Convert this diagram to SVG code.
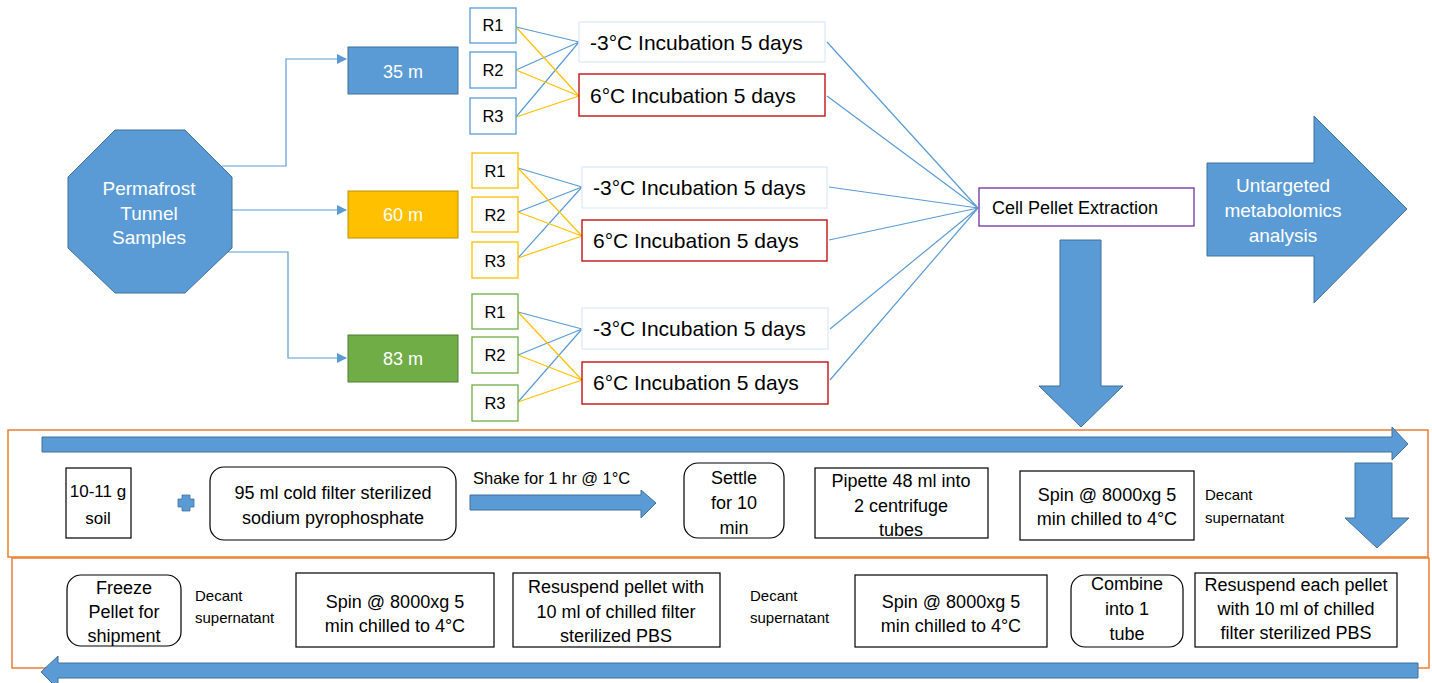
<svg xmlns="http://www.w3.org/2000/svg" width="1432" height="683" viewBox="0 0 1432 683">
<style>
text{font-family:"Liberation Sans",Arial,sans-serif;fill:#000}
.w{fill:#fff}
.c{text-anchor:middle}
.f18{font-size:18px}
.f17{font-size:17px}
.f16{font-size:16.5px}
.f15{font-size:15px}
.fr{font-size:16.5px}
.f21{font-size:21px}
.f19{font-size:19px}
.box{fill:#fff;stroke:#000;stroke-width:1.2}
.blu{fill:#5B9BD5;stroke:#41719C;stroke-width:1}
.lb{stroke:#5B9BD5;stroke-width:1.2;fill:none}
.ly{stroke:#FFC000;stroke-width:1.2;fill:none}
.org{fill:none;stroke:#ED7D31;stroke-width:1.5}
</style>
<defs>
<marker id="ah" markerWidth="10" markerHeight="10" refX="9" refY="5" orient="auto" markerUnits="userSpaceOnUse"><path d="M0,0 L10,5 L0,10 z" fill="#5B9BD5"/></marker>
</defs>

<!-- frames -->
<rect class="org" x="8" y="430" width="1420" height="127"/>
<rect class="org" x="12" y="558" width="1417" height="110"/>

<g id="connectors">
<path class="lb" d="M222,166 H286 V59 H346" marker-end="url(#ah)"/>
<path class="lb" d="M232,210 H346" marker-end="url(#ah)"/>
<path class="lb" d="M227,252 H288 V358 H346" marker-end="url(#ah)"/>
<!-- group 1 -->
<path class="lb" d="M516,27 L579,42 M516,70 L579,42 M516,117 L579,42"/>
<path class="ly" d="M516,27 L579,96 M516,70 L579,96 M516,117 L579,96"/>
<!-- group 2 -->
<path class="lb" d="M518,168 L582,187 M518,212 L582,187 M518,258 L582,187"/>
<path class="ly" d="M518,168 L582,236 M518,212 L582,236 M518,258 L582,236"/>
<!-- group 3 -->
<path class="lb" d="M518,312 L582,329 M518,355 L582,329 M518,402 L582,329"/>
<path class="ly" d="M518,312 L582,380 M518,355 L582,380 M518,402 L582,380"/>
<!-- to cell pellet -->
<path class="lb" d="M827,42 L978,208 M827,96 L978,208 M829,187 L978,208 M829,240 L978,208 M830,329 L978,208 M830,380 L978,208"/>
</g>

<g id="permafrost">
<polygon class="blu" points="115,130 185,130 232,177 232,248 185,293 115,293 68,248 68,177"/>
<text class="w c f19" x="149" y="195">Permafrost</text>
<text class="w c f19" x="149" y="220">Tunnel</text>
<text class="w c f19" x="149" y="244">Samples</text>
</g>

<g id="d35"><rect x="348" y="47" width="110" height="47" fill="#5B9BD5" stroke="#41719C"/><text class="w c f18" x="403" y="78">35 m</text></g>
<g id="d60"><rect x="348" y="191" width="110" height="47" fill="#FFC000" stroke="#BF9000"/><text class="w c f18" x="403" y="221">60 m</text></g>
<g id="d83"><rect x="348" y="335" width="110" height="47" fill="#70AD47" stroke="#507E32"/><text class="w c f18" x="403" y="365">83 m</text></g>

<g id="r1a"><rect x="470" y="8" width="46" height="35" fill="#fff" stroke="#5B9BD5" stroke-width="1.3"/><text class="c fr" x="493" y="31">R1</text></g>
<g id="r2a"><rect x="470" y="52" width="46" height="36" fill="#fff" stroke="#5B9BD5" stroke-width="1.3"/><text class="c fr" x="493" y="76">R2</text></g>
<g id="r3a"><rect x="470" y="98" width="46" height="36" fill="#fff" stroke="#5B9BD5" stroke-width="1.3"/><text class="c fr" x="493" y="122">R3</text></g>

<g id="r1b"><rect x="472" y="153" width="46" height="35" fill="#fff" stroke="#FFC000" stroke-width="1.3"/><text class="c fr" x="495" y="177">R1</text></g>
<g id="r2b"><rect x="472" y="197" width="46" height="35" fill="#fff" stroke="#FFC000" stroke-width="1.3"/><text class="c fr" x="495" y="221">R2</text></g>
<g id="r3b"><rect x="472" y="242" width="46" height="36" fill="#fff" stroke="#FFC000" stroke-width="1.3"/><text class="c fr" x="495" y="267">R3</text></g>

<g id="r1c"><rect x="472" y="294" width="46" height="35" fill="#fff" stroke="#70AD47" stroke-width="1.3"/><text class="c fr" x="495" y="318">R1</text></g>
<g id="r2c"><rect x="472" y="337" width="46" height="36" fill="#fff" stroke="#70AD47" stroke-width="1.3"/><text class="c fr" x="495" y="361">R2</text></g>
<g id="r3c"><rect x="472" y="385" width="46" height="36" fill="#fff" stroke="#70AD47" stroke-width="1.3"/><text class="c fr" x="495" y="409">R3</text></g>

<g id="inc1c"><rect x="579" y="22" width="246" height="40" fill="#fff" stroke="#DEEBF7" stroke-width="1.3"/><text class="f21" x="590" y="50">-3°C Incubation 5 days</text></g>
<g id="inc1w"><rect x="579" y="74" width="246" height="42" fill="#fff" stroke="#C00000" stroke-width="1.3"/><text class="f21" x="590" y="103">6°C Incubation 5 days</text></g>
<g id="inc2c"><rect x="582" y="167" width="245" height="41" fill="#fff" stroke="#DEEBF7" stroke-width="1.3"/><text class="f21" x="593" y="195">-3°C Incubation 5 days</text></g>
<g id="inc2w"><rect x="582" y="220" width="245" height="41" fill="#fff" stroke="#C00000" stroke-width="1.3"/><text class="f21" x="593" y="248">6°C Incubation 5 days</text></g>
<g id="inc3c"><rect x="582" y="308" width="246" height="41" fill="#fff" stroke="#DEEBF7" stroke-width="1.3"/><text class="f21" x="593" y="336">-3°C Incubation 5 days</text></g>
<g id="inc3w"><rect x="582" y="362" width="246" height="42" fill="#fff" stroke="#C00000" stroke-width="1.3"/><text class="f21" x="593" y="390">6°C Incubation 5 days</text></g>

<g id="cellpellet"><rect x="979" y="188" width="215" height="38" fill="#fff" stroke="#7030A0" stroke-width="1.3"/><text class="f18" x="992" y="214">Cell Pellet Extraction</text></g>

<g id="untargeted">
<polygon class="blu" points="1207,163 1314,163 1314,116 1407,209 1314,303 1314,256 1207,256"/>
<text class="w c f19" x="1283" y="192">Untargeted</text>
<text class="w c f19" x="1283" y="217">metabolomics</text>
<text class="w c f19" x="1283" y="242">analysis</text>
</g>

<g id="downarrow"><polygon class="blu" points="1060,240 1101,240 1101,386 1123,386 1081,427 1039,386 1060,386"/></g>

<g id="toparrow"><polygon class="blu" points="42,437 1392,437 1392,427 1408,444 1392,460 1392,452 42,452"/></g>
<g id="smalldown"><polygon class="blu" points="1355,463 1392,463 1392,518 1409,518 1377,548 1345,518 1355,518"/></g>
<g id="leftarrow"><polygon class="blu" points="1418,663 58,663 58,656 41,672 58,689 58,678 1418,678"/></g>

<g id="soil"><rect class="box" x="66" y="468" width="65" height="70"/><text class="c f17" x="98" y="497">10-11 g</text><text class="c f17" x="98" y="524">soil</text></g>
<g id="plus"><path d="M182,495 h8 v4 h4 v8 h-4 v4 h-8 v-4 h-4 v-8 h4 z" fill="#5B9BD5" stroke="#41719C" stroke-width="0.8"/></g>
<g id="pyro"><rect class="box" x="210" y="467" width="246" height="73" rx="14"/><text class="c f18" x="333" y="499">95 ml cold filter sterilized</text><text class="c f18" x="333" y="524">sodium pyrophosphate</text></g>
<g id="shake"><text class="f16" x="473" y="484">Shake for 1 hr @ 1°C</text><polygon class="blu" points="470,495 641,495 641,490 656,503 641,518 641,510 470,510"/></g>
<g id="settle"><rect class="box" x="684" y="463" width="100" height="75" rx="14"/><text class="c f18" x="734" y="484">Settle</text><text class="c f18" x="734" y="509">for 10</text><text class="c f18" x="734" y="534">min</text></g>
<g id="pipette"><rect class="box" x="815" y="468" width="173" height="70"/><text class="c f18" x="901" y="487">Pipette 48 ml into</text><text class="c f18" x="901" y="512">2 centrifuge</text><text class="c f18" x="901" y="536">tubes</text></g>
<g id="spin1"><rect class="box" x="1020" y="471" width="174" height="69"/><text class="c f18" x="1107" y="501">Spin @ 8000xg 5</text><text class="c f18" x="1107" y="525">min chilled to 4°C</text></g>
<g id="decant1"><text class="f15" x="1205" y="500">Decant</text><text class="f15" x="1205" y="523">supernatant</text></g>

<g id="freeze"><rect class="box" x="67" y="575" width="114" height="71" rx="14"/><text class="c f18" x="124" y="594">Freeze</text><text class="c f18" x="124" y="618">Pellet for</text><text class="c f18" x="124" y="642">shipment</text></g>
<g id="decant2"><text class="f15" x="195" y="601">Decant</text><text class="f15" x="195" y="623">supernatant</text></g>
<g id="spin2"><rect class="box" x="296" y="573" width="198" height="74"/><text class="c f18" x="395" y="608">Spin @ 8000xg 5</text><text class="c f18" x="395" y="632">min chilled to 4°C</text></g>
<g id="resusp1"><rect class="box" x="513" y="573" width="207" height="74"/><text class="c f18" x="616" y="593">Resuspend pellet with</text><text class="c f18" x="616" y="618">10 ml of chilled filter</text><text class="c f18" x="616" y="642">sterilized PBS</text></g>
<g id="decant3"><text class="f15" x="750" y="601">Decant</text><text class="f15" x="750" y="623">supernatant</text></g>
<g id="spin3"><rect class="box" x="855" y="575" width="192" height="72"/><text class="c f18" x="951" y="608">Spin @ 8000xg 5</text><text class="c f18" x="951" y="632">min chilled to 4°C</text></g>
<g id="combine"><rect class="box" x="1071" y="575" width="112" height="72" rx="14"/><text class="c f18" x="1127" y="590">Combine</text><text class="c f18" x="1127" y="615">into 1</text><text class="c f18" x="1127" y="640">tube</text></g>
<g id="resusp2"><rect class="box" x="1195" y="573" width="202" height="74"/><text class="c f18" x="1296" y="591">Resuspend each pellet</text><text class="c f18" x="1296" y="615">with 10 ml of chilled</text><text class="c f18" x="1296" y="639">filter sterilized PBS</text></g>
</svg>
